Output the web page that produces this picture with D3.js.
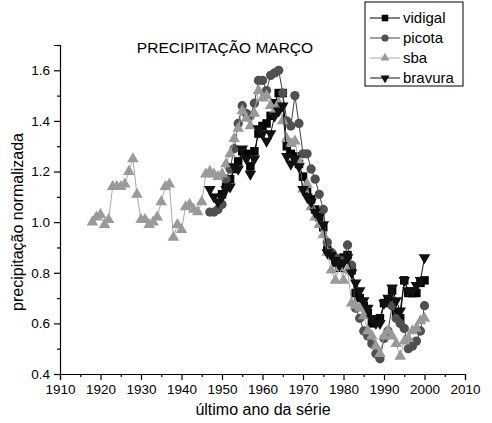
<!DOCTYPE html>
<html>
<head>
<meta charset="utf-8">
<script src="https://cdn.jsdelivr.net/npm/d3@7"></script>
<style>
  body { margin: 0; background: #fff; }
  svg { font-family: "Liberation Sans", Arial, sans-serif; }
</style>
</head>
<body>
<div id="main"></div>
<script>
// dados (ano inicial + valores anuais)
var sbaStart = 1918;
var sba = [1.00, 1.02, 1.03, 0.99, 1.01, 1.14, 1.14, 1.14, 1.15, 1.20,
  1.25, 1.11, 1.01, 1.01, 0.99, 1.00, 1.02, 1.08, 1.14, 1.15,
  0.94, 0.99, 0.97, 1.06, 1.07, 1.05, 1.04, 1.08, 1.19, 1.20,
  1.19, 1.18, 1.19, 1.23, 1.27, 1.33, 1.37, 1.44, 1.41, 1.38,
  1.43, 1.52, 1.49, 1.50, 1.46, 1.44, 1.47, 1.40, 1.33, 1.31,
  1.32, 1.24, 1.13, 1.15, 1.06, 1.02, 0.99, 0.95, 0.88, 0.81,
  0.77, 0.82, 0.77, 0.81, 0.68, 0.67, 0.66, 0.63, 0.57, 0.55,
  0.51, 0.48, 0.55, 0.57, 0.55, 0.52, 0.47, 0.53, 0.54, 0.57,
  0.58, 0.61, 0.62];

var picotaStart = 1947;
var picota = [1.04, 1.04, 1.05, 1.07, 1.17, 1.21, 1.29, 1.39, 1.46, 1.43,
  1.42, 1.47, 1.56, 1.56, 1.52, 1.58, 1.59, 1.60, 1.51, 1.40,
  1.38, 1.50, 1.39, 1.27, 1.27, 1.21, 1.17, 1.11, 1.05, 0.92,
  0.88, 0.86, 0.83, 0.85, 0.91, 0.83, 0.66, 0.62, 0.57, 0.55,
  0.52, 0.48, 0.46, 0.54, 0.57, 0.67, 0.62, 0.60, 0.58, 0.50,
  0.51, 0.53, 0.57, 0.67];

var bravuraStart = 1947;
var bravura = [1.13, 1.10, 1.08, 1.10, 1.13, 1.14, 1.22, 1.21, 1.29, 1.25,
  1.19, 1.25, 1.37, 1.35, 1.32, 1.35, 1.42, 1.44, 1.46, 1.26,
  1.23, 1.25, 1.22, 1.13, 1.10, 1.08, 1.04, 1.02, 0.99, 0.88,
  0.87, 0.85, 0.83, 0.84, 0.86, 0.80, 0.76, 0.73, 0.69, 0.66,
  0.62, 0.60, 0.60, 0.68, 0.70, 0.74, 0.69, 0.65, 0.77, 0.73,
  0.73, 0.75, 0.77, 0.86];

var vidigalStart = 1950;
var vidigal = [1.11, 1.14, 1.17, 1.21, 1.24, 1.28, 1.27, 1.22, 1.28, 1.35,
  1.38, 1.39, 1.42, 1.47, 1.51, 1.51, 1.30, 1.27, 1.26, 1.23,
  1.18, 1.12, 1.09, 1.05, 1.02, 0.98, 0.89, 0.87, 0.84, 0.82,
  0.86, 0.87, 0.81, 0.72, 0.70, 0.67, 0.64, 0.60, 0.61, 0.62,
  0.68, 0.69, 0.73, 0.64, 0.62, 0.77, 0.72, 0.72, 0.72, 0.76,
  0.77];

var xMajor = [1910, 1920, 1930, 1940, 1950, 1960, 1970, 1980, 1990, 2000, 2010];
var xMinor = [1915, 1925, 1935, 1945, 1955, 1965, 1975, 1985, 1995, 2005];
var yMajor = [0.4, 0.6, 0.8, 1.0, 1.2, 1.4, 1.6];
var yMinor = [0.5, 0.7, 0.9, 1.1, 1.3, 1.5, 1.7];

var series = [
  {name: "vidigal", start: vidigalStart, values: vidigal, symbol: d3.symbolSquare, size: 72, fill: "#000", line: "#000", rot: 0},
  {name: "picota", start: picotaStart, values: picota, symbol: d3.symbolCircle, size: 68, fill: "#505050", line: "#404040", rot: 0},
  {name: "sba", start: sbaStart, values: sba, symbol: d3.symbolTriangle, size: 58, fill: "#9a9a9a", line: "#a8a8a8", rot: 0},
  {name: "bravura", start: bravuraStart, values: bravura, symbol: d3.symbolTriangle, size: 58, fill: "#111", line: "#111", rot: 180}
];

var width = 492, height = 423;

function main() {
  const svg = d3.create("svg")
    .attr("width", width)
    .attr("height", height);

  const x = d3.scaleLinear().domain([1910, 2010]).range([60, 465]);
  const y = d3.scaleLinear().domain([0.4, 1.7]).range([374, 45]);

  // eixos
  svg.append("g")
    .attr("transform", "translate(0,374)")
    .call(d3.axisBottom(x).tickValues(xMajor).tickSize(6).tickPadding(4).tickFormat(d3.format("d")))
    .call(g => g.selectAll("text").attr("font-size", 13.5).attr("fill", "#000"));
  svg.append("g")
    .attr("transform", "translate(0,374)")
    .call(d3.axisBottom(x).tickValues(xMinor).tickSize(3).tickFormat(""))
    .call(g => g.select(".domain").remove());

  svg.append("g")
    .attr("transform", "translate(60,0)")
    .call(d3.axisLeft(y).tickValues(yMajor).tickSize(6).tickPadding(4).tickFormat(d3.format(".1f")))
    .call(g => g.selectAll("text").attr("font-size", 13.5).attr("fill", "#000"));
  svg.append("g")
    .attr("transform", "translate(60,0)")
    .call(d3.axisLeft(y).tickValues(yMinor).tickSize(3).tickFormat(""))
    .call(g => g.select(".domain").remove());

  svg.selectAll(".domain").attr("stroke-width", 1.2);
  svg.selectAll(".tick line").attr("stroke-width", 1.2);

  // séries
  const line = d3.line()
    .x(d => x(d[0]))
    .y(d => y(d[1]));

  series.forEach(s => {
    const pts = s.values.map((v, i) => [s.start + i, v]);
    const g = svg.append("g");
    g.append("path")
      .attr("d", line(pts))
      .attr("fill", "none")
      .attr("stroke", s.line)
      .attr("stroke-width", 1);
    g.selectAll("path.m")
      .data(pts)
      .join("path")
        .attr("class", "m")
        .attr("d", d3.symbol(s.symbol, s.size))
        .attr("fill", s.fill)
        .attr("transform", d => `translate(${x(d[0])},${y(d[1])}) rotate(${s.rot})`);
  });

  // títulos
  svg.append("text")
    .attr("x", 225).attr("y", 53)
    .attr("text-anchor", "middle")
    .attr("font-size", 15.5)
    .text("PRECIPITAÇÃO MARÇO");

  svg.append("text")
    .attr("x", 263).attr("y", 415)
    .attr("text-anchor", "middle")
    .attr("font-size", 16)
    .text("último ano da série");

  svg.append("text")
    .attr("transform", "translate(23,222) rotate(-90)")
    .attr("text-anchor", "middle")
    .attr("font-size", 16)
    .text("precipitação normalizada");

  // legenda
  const leg = svg.append("g").attr("transform", "translate(365,2)");
  leg.append("rect")
    .attr("width", 98).attr("height", 84)
    .attr("fill", "#fff").attr("stroke", "#000").attr("stroke-width", 1);
  series.forEach((s, i) => {
    const row = leg.append("g").attr("transform", `translate(0,${16 + i * 20})`);
    row.append("line")
      .attr("x1", 5).attr("x2", 35)
      .attr("stroke", s.line).attr("stroke-width", 1);
    row.append("path")
      .attr("d", d3.symbol(s.symbol, s.size * 0.6))
      .attr("fill", s.fill)
      .attr("transform", `translate(20,0) rotate(${s.rot})`);
    row.append("text")
      .attr("x", 38).attr("y", 5)
      .attr("font-size", 15)
      .text(s.name);
  });

  return svg.node();
}

document.getElementById("main").appendChild(main());
</script>
</body>
</html>
